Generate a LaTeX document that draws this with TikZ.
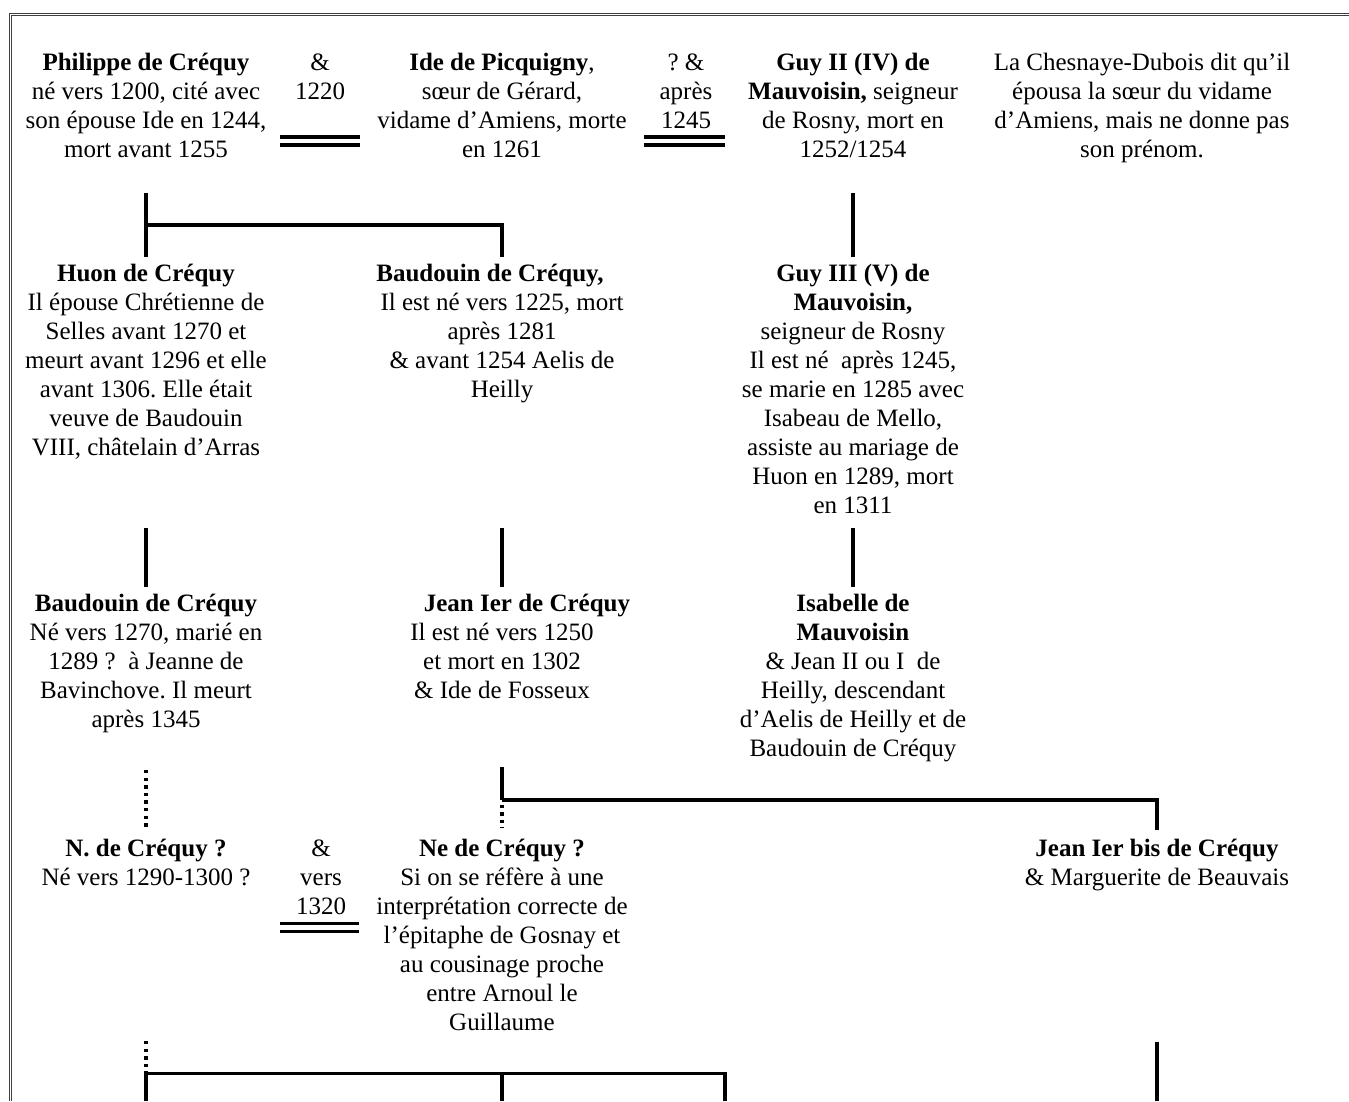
\documentclass[tikz,border=0pt]{standalone}
\usepackage{fontspec}
\setmainfont{Liberation Serif}
\frenchspacing
\newcommand\gblock[1]{\begin{tabular}[t]{@{}c@{}}#1\end{tabular}}
\begin{document}
\begin{tikzpicture}[x=1pt,y=-1pt,
  txt/.style={inner sep=0pt, anchor=base, font=\fontsize{25}{29}\selectfont},
  kin/.style={line width=3.4pt, line join=miter},
  unsure/.style={line width=3.4pt, dash pattern=on 3.4pt off 4.2pt},
  bar/.style={double, double distance=4.5pt, line width=3.5pt},
  frameline/.style={line width=1.3pt, draw=black!75}]
\useasboundingbox (0,0) rectangle (1349,1101);
\fill[white] (0,0) rectangle (1349,1101);
% frame
\draw[frameline] (9.2,1101) -- (9.2,13.2) -- (1349,13.2);
\draw[frameline] (11.8,1101) -- (11.8,15.6) -- (1349,15.6);

% ---------- row 1
\node[txt] (philippe) at (146,70) {\gblock{\textbf{Philippe de Créquy}\\né vers 1200, cité avec\\son épouse Ide en 1244,\\mort avant 1255}};
\node[txt] (m1) at (320,70) {\gblock{\&\\1220}};
\node[txt] (ide) at (502,70) {\gblock{\textbf{Ide de Picquigny},\\sœur de Gérard,\\vidame d’Amiens, morte\\en 1261}};
\node[txt] (m2) at (686,70) {\gblock{? \&\\après\\1245}};
\node[txt] (guy2) at (853,70) {\gblock{\textbf{Guy II (IV) de}\\\textbf{Mauvoisin,} seigneur\\de Rosny, mort en\\1252/1254}};
\node[txt] (note) at (1142,70) {\gblock{La Chesnaye-Dubois dit qu’il\\épousa la sœur du vidame\\d’Amiens, mais ne donne pas\\son prénom.}};

% ---------- row 2
\node[txt] (huon) at (146,281) {\gblock{\textbf{Huon de Créquy}\\Il épouse Chrétienne de\\Selles avant 1270 et\\meurt avant 1296 et elle\\avant 1306. Elle était\\veuve de Baudouin\\VIII, châtelain d’Arras}};
\node[txt] (baud1) at (502,281) {\gblock{\textbf{Baudouin de Créquy,}\hspace*{24pt}\\Il est né vers 1225, mort\\après 1281\\\& avant 1254 Aelis de\\Heilly}};
\node[txt] (guy3) at (853,281) {\gblock{\textbf{Guy III (V) de}\\\textbf{Mauvoisin,}\\seigneur de Rosny\\Il est né~ après 1245,\\se marie en 1285 avec\\Isabeau de Mello,\\assiste au mariage de\\Huon en 1289, mort\\en 1311}};

% ---------- row 3
\node[txt] (baud2) at (146,611) {\gblock{\textbf{Baudouin de Créquy}\\Né vers 1270, marié en\\1289 ?~ à Jeanne de\\Bavinchove. Il meurt\\après 1345}};
\node[txt] (jean) at (502,611) {\gblock{\hspace*{50pt}\textbf{Jean Ier de Créquy}\\Il est né vers 1250\\et mort en 1302\\\& Ide de Fosseux}};
\node[txt] (isab) at (853,611) {\gblock{\textbf{Isabelle de}\\\textbf{Mauvoisin}\\\& Jean II ou I~ de\\Heilly, descendant\\d’Aelis de Heilly et de\\Baudouin de Créquy}};

% ---------- row 4
\node[txt] (ncreq) at (146,856) {\gblock{\textbf{N. de Créquy ?}\\Né vers 1290-1300 ?}};
\node[txt] (m3) at (321,856) {\gblock{\&\\vers\\1320}};
\node[txt] (necreq) at (502,856) {\gblock{\textbf{Ne de Créquy ?}\\Si on se réfère à une\\interprétation correcte de\\l’épitaphe de Gosnay et\\au cousinage proche\\entre Arnoul le\\Guillaume}};
\node[txt] (jeanbis) at (1157,856) {\gblock{\textbf{Jean Ier bis de Créquy}\\\& Marguerite de Beauvais}};

% ---------- marriage bars
\coordinate (m1l) at (280,141); \coordinate (m1r) at (360,141);
\coordinate (m2l) at (644,141); \coordinate (m2r) at (725,141);
\coordinate (m3l) at (280,927.5); \coordinate (m3r) at (359,927.5);
\draw[bar] (m1l) -- (m1r);
\draw[bar] (m2l) -- (m2r);
\draw[bar] (m3l) -- (m3r);

% ---------- descent lines row 1 -> row 2
\coordinate (philD) at (146,193);
\coordinate (huonU) at (146,257);
\coordinate (sib1a) at (146,225);
\coordinate (sib1b) at (502,225);
\coordinate (baud1U) at (502,257);
\coordinate (guy2D) at (853,193);
\coordinate (guy3U) at (853,257);
\draw[kin] (philD) -- (huonU);
\draw[kin] (sib1a) -- (sib1b) -- (baud1U);
\draw[kin] (guy2D) -- (guy3U);

% ---------- row 2 -> row 3
\coordinate (huonD) at (146,528);  \coordinate (baud2U) at (146,587);
\coordinate (baud1D) at (502,528); \coordinate (jeanU) at (502,587);
\coordinate (guy3D) at (853,528);  \coordinate (isabU) at (853,587);
\draw[kin] (huonD) -- (baud2U);
\draw[kin] (baud1D) -- (jeanU);
\draw[kin] (guy3D) -- (isabU);

% ---------- row 3 -> row 4
\coordinate (baud2D) at (146,770); \coordinate (ncreqU) at (146,828);
\coordinate (jeanD) at (502,767);
\coordinate (sib2a) at (502,800);
\coordinate (sib2b) at (1157,800);
\coordinate (jeanbisU) at (1157,830);
\coordinate (necreqU) at (502,828);
\draw[unsure] (baud2D) -- (ncreqU);
\draw[kin] (jeanD) -- (sib2a);
\draw[kin] (sib2a) -- (sib2b) -- (jeanbisU);
\draw[unsure] ([yshift=3pt]sib2a) -- (necreqU);

% ---------- row 4 -> below
\coordinate (ncreqD) at (146,1041); \coordinate (sib3a) at (146,1073.5);
\coordinate (sib3m) at (502,1073.5); \coordinate (sib3b) at (725,1073.5);
\coordinate (c1) at (146,1101); \coordinate (c2) at (502,1101); \coordinate (c3) at (725,1101);
\coordinate (jeanbisD) at (1157,1042); \coordinate (c4) at (1157,1101);
\draw[unsure] (ncreqD) -- ([yshift=-4pt]sib3a);
\draw[kin] (c1) -- (sib3a) -- (sib3b) -- (c3);
\draw[kin] (sib3m) -- (c2);
\draw[kin] (jeanbisD) -- (c4);
\end{tikzpicture}
\end{document}
